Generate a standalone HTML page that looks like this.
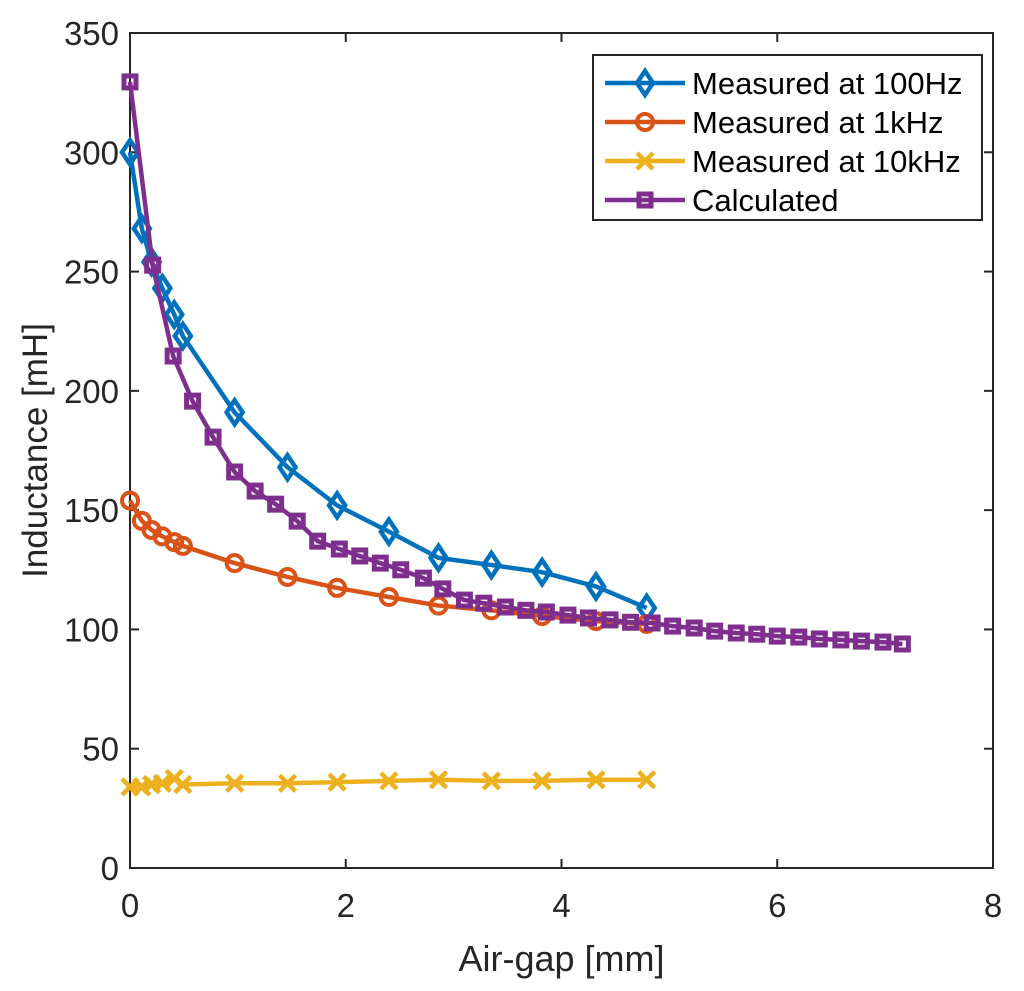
<!DOCTYPE html>
<html><head><meta charset="utf-8"><style>body{margin:0;background:#fff}svg{display:block;font-family:"Liberation Sans",Arial,sans-serif}</style></head>
<body>
<svg id="c" width="1024" height="991"></svg>
<script>
const blueX=[0,0.11,0.2,0.3,0.41,0.49,0.97,1.46,1.92,2.4,2.86,3.35,3.82,4.32,4.79];
const blueY=[300,268,254,243,232,223,191,168,152,141,130,127,124,118,109];
const orangeX=blueX;
const orangeY=[154,145.5,141.7,139,136.6,135,127.8,122,117.4,113.6,110,108,105.6,103.5,102.3];
const yellowX=blueX;
const yellowY=[34,34,35,35.5,37.5,35,35.5,35.5,36,36.5,37,36.5,36.5,37,37];
const purpleX=[0,0.21,0.4,0.58,0.77,0.97,1.16,1.35,1.55,1.74,1.94,2.13,2.32,2.51,2.72,2.9,3.1,3.28,3.48,3.67,3.86,4.06,4.25,4.45,4.64,4.84,5.03,5.23,5.42,5.62,5.81,6.0,6.2,6.39,6.59,6.78,6.98,7.16];
const purpleY=[329.5,252.7,214.6,195.7,180.6,166,158,152.5,145.4,137,133.7,130.8,127.8,125,121.5,117,112.3,111,109.4,108,107.3,106,104.8,104,103,102.7,101.4,100.6,99.3,98.5,98,97.2,96.8,96,95.6,95.1,94.7,93.9];
const xTicks=[0,2,4,6,8];
const yTicks=[0,50,100,150,200,250,300,350];
const L=130,R=993,T=33,B=868;
const sx=v=>L+(R-L)*v/8, sy=v=>B-(B-T)*v/350;
const svg=document.getElementById('c');const NS='http://www.w3.org/2000/svg';
function mk(t,a,p){const e=document.createElementNS(NS,t);for(const k in a)e.setAttribute(k,a[k]);(p||svg).appendChild(e);return e;}
let ax=mk('g',{});


mk('rect',{x:L,y:T,width:R-L,height:B-T,fill:'none',stroke:'#262626','stroke-width':2},ax);
xTicks.forEach(v=>{const x=sx(v);mk('line',{x1:x,x2:x,y1:B,y2:B-9,stroke:'#262626','stroke-width':2},ax);mk('line',{x1:x,x2:x,y1:T,y2:T+9,stroke:'#262626','stroke-width':2},ax);
const t=mk('text',{x:x,y:B+49,'text-anchor':'middle','font-size':33,fill:'#262626'},ax);t.textContent=v;

});
yTicks.forEach(v=>{const y=sy(v);mk('line',{x1:L,x2:L+9,y1:y,y2:y,stroke:'#262626','stroke-width':2},ax);mk('line',{x1:R,x2:R-9,y1:y,y2:y,stroke:'#262626','stroke-width':2},ax);
const t=mk('text',{x:L-11,y:y+12,'text-anchor':'end','font-size':33,fill:'#262626'},ax);t.textContent=v;

});
let xt=mk('text',{x:(L+R)/2,y:971,'text-anchor':'middle','font-size':36,fill:'#262626'});xt.textContent='Air-gap [mm]';


let yt=mk('text',{x:0,y:0,'text-anchor':'middle','font-size':35,fill:'#262626',transform:`translate(47,${(T+B)/2}) rotate(-90)`});yt.textContent='Inductance [mH]';


function marker(g,type,x,y,c){
 if(type==='d')mk('path',{d:`M${x} ${y-12}L${x+8} ${y}L${x} ${y+12}L${x-8} ${y}Z`,fill:'none',stroke:c,'stroke-width':4.5},g);
 else if(type==='o')mk('circle',{cx:x,cy:y,r:8,fill:'none',stroke:c,'stroke-width':4},g);
 else if(type==='x'){mk('path',{d:`M${x-8} ${y-8}L${x+8} ${y+8}M${x-8} ${y+8}L${x+8} ${y-8}`,stroke:c,'stroke-width':4.5},g);}
 else mk('rect',{x:x-6,y:y-6,width:12,height:12,fill:'none',stroke:c,'stroke-width':5},g);
}
function series(name,X,Y,c,type){const g=mk('g',{});


mk('polyline',{points:X.map((v,i)=>sx(v)+','+sy(Y[i])).join(' '),fill:'none',stroke:c,'stroke-width':4.5,'stroke-linejoin':'round'},g);
X.forEach((v,i)=>marker(g,type,sx(v),sy(Y[i]),c));}
series('series-100hz',blueX,blueY,'#0072BD','d');
series('series-1khz',orangeX,orangeY,'#D95319','o');
series('series-10khz',yellowX,yellowY,'#EDB120','x');
series('series-calculated',purpleX,purpleY,'#7E2F8E','s');
let lg=mk('g',{});


mk('rect',{x:593,y:55,width:389,height:165,fill:'#fff',stroke:'#262626','stroke-width':2},lg);
[['Measured at 100Hz','#0072BD','d'],['Measured at 1kHz','#D95319','o'],['Measured at 10kHz','#EDB120','x'],['Calculated','#7E2F8E','s']].forEach((e,i)=>{
 const y=83+i*39;const g=mk('g',{},lg);
 
 
 mk('line',{x1:605,x2:685,y1:y,y2:y,stroke:e[1],'stroke-width':4.5},g);marker(g,e[2],645,y,e[1]);
 const t=mk('text',{x:692,y:y+11,'font-size':31,fill:'#000'},g);t.textContent=e[0];});
</script>
</body></html>
